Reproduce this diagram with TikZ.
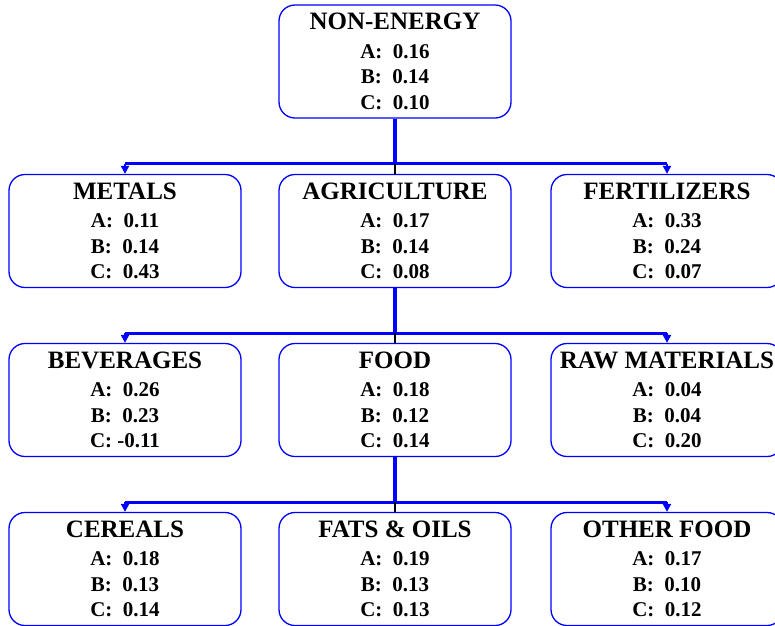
\documentclass[tikz,border=0pt]{standalone}
\usepackage{fontspec}
\setmainfont{Liberation Serif}
\usetikzlibrary{arrows.meta}

\newcommand{\hd}[1]{{\fontsize{25}{29}\selectfont #1}}

\begin{document}
\begin{tikzpicture}[x=1pt,y=-1pt,
    box/.style={draw=blue, line width=1.3pt, rounded corners=16pt,
        minimum width=232pt, minimum height=113pt, inner sep=0pt,
        align=center, font=\fontsize{21}{25.5}\selectfont\bfseries},
    bus/.style={blue, line width=3.2pt},
    drop/.style={blue, line width=2pt, -{Triangle[length=8pt,width=8pt]}},
    stub/.style={black, line width=1.5pt}]

    \useasboundingbox (0,0) rectangle (775,625);

    \node[box] (ne)     at (395,61.5) {\hd{NON-ENERGY}\\[3pt] A:\ \ 0.16\\ B:\ \ 0.14\\ C:\ \ 0.10};

    \node[box] (metals) at (125,231) {\hd{METALS}\\[3pt] A:\ \ 0.11\\ B:\ \ 0.14\\ C:\ \ 0.43};
    \node[box] (agri)   at (395,231) {\hd{AGRICULTURE}\\[3pt] A:\ \ 0.17\\ B:\ \ 0.14\\ C:\ \ 0.08};
    \node[box] (fert)   at (667,231) {\hd{FERTILIZERS}\\[3pt] A:\ \ 0.33\\ B:\ \ 0.24\\ C:\ \ 0.07};

    \node[box] (bev)    at (125,400) {\hd{BEVERAGES}\\[3pt] A:\ \ 0.26\\ B:\ \ 0.23\\ C: -0.11};
    \node[box] (food)   at (395,400) {\hd{FOOD}\\[3pt] A:\ \ 0.18\\ B:\ \ 0.12\\ C:\ \ 0.14};
    \node[box] (raw)    at (667,400) {\hd{RAW MATERIALS}\\[3pt] A:\ \ 0.04\\ B:\ \ 0.04\\ C:\ \ 0.20};

    \node[box] (cer)    at (125,569) {\hd{CEREALS}\\[3pt] A:\ \ 0.18\\ B:\ \ 0.13\\ C:\ \ 0.14};
    \node[box] (fats)   at (395,569) {\hd{FATS \& OILS}\\[3pt] A:\ \ 0.19\\ B:\ \ 0.13\\ C:\ \ 0.13};
    \node[box] (other)  at (667,569) {\hd{OTHER FOOD}\\[3pt] A:\ \ 0.17\\ B:\ \ 0.10\\ C:\ \ 0.12};

% parent -> children
\foreach \p/\l/\m/\r in {ne/metals/agri/fert, agri/bev/food/raw, food/cer/fats/other} {
    \coordinate (j-\p) at ([yshift=-45pt]\p.south);
    \draw[bus] (\p.south) -- (j-\p);
    \draw[bus] (j-\p -| \l.north) -- (j-\p -| \r.north);
    \draw[drop] (j-\p -| \l.north) -- (\l.north);
    \draw[drop] (j-\p -| \r.north) -- (\r.north);
    \draw[stub] (j-\p) -- (\m.north);
}
\end{tikzpicture}
\end{document}
